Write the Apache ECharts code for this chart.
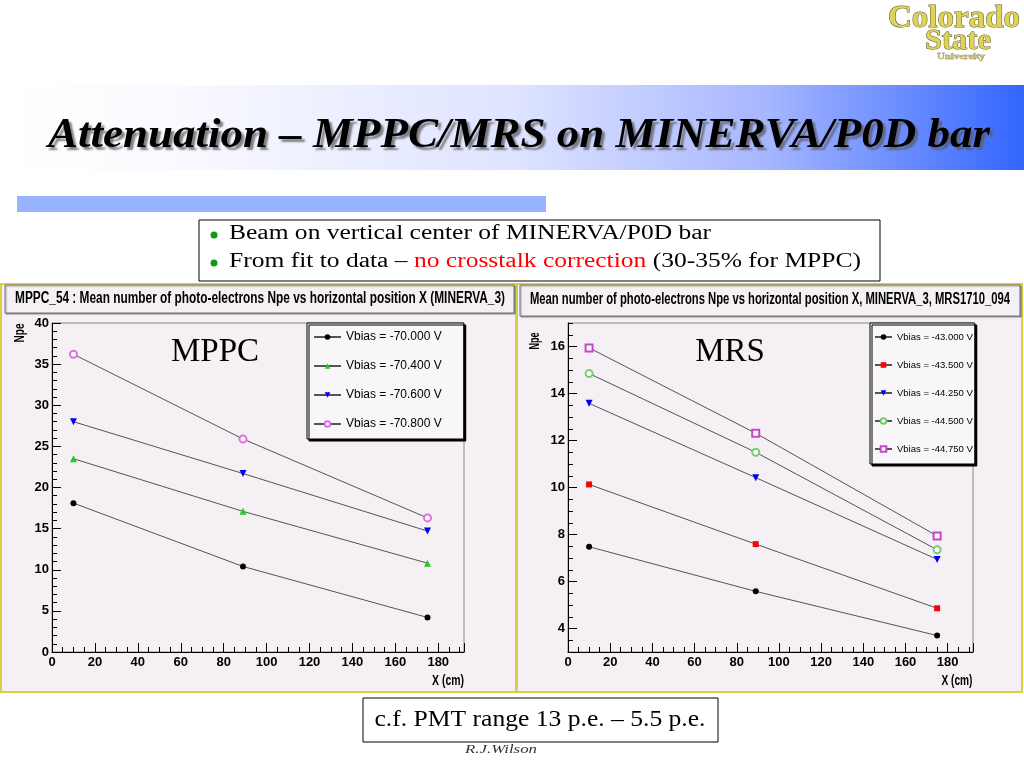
<!DOCTYPE html>
<html><head><meta charset="utf-8">
<script src="https://cdn.jsdelivr.net/npm/echarts@6/dist/echarts.min.js"></script>
<style>html,body{margin:0;padding:0;background:#fff}#c{width:1024px;height:768px}</style>
</head><body><div id="c"></div>
<script>
// ---------------- data ----------------
const xPositions = [10, 89, 175];               // X (cm)
const mppcNames = ['Vbias = -70.000 V', 'Vbias = -70.400 V', 'Vbias = -70.600 V', 'Vbias = -70.800 V'];
const mppc70000 = [18.1, 10.4, 4.2];
const mppc70400 = [23.5, 17.1, 10.8];
const mppc70600 = [28.0, 21.7, 14.7];
const mppc70800 = [36.2, 25.9, 16.3];
const mrsNames = ['Vbias = -43.000 V', 'Vbias = -43.500 V', 'Vbias = -44.250 V', 'Vbias = -44.500 V', 'Vbias = -44.750 V'];
const mrs43000 = [7.48, 5.58, 3.70];
const mrs43500 = [10.13, 7.59, 4.86];
const mrs44250 = [13.58, 10.42, 6.94];
const mrs44500 = [14.85, 11.50, 7.35];
const mrs44750 = [15.94, 12.31, 7.94];
const mrsYTickLabels = [4, 6, 8, 10, 12, 14, 16];

// ---------------- styles ----------------
const rootFont = "'Liberation Sans',Arial,sans-serif";
const serif = "'Liberation Serif','Times New Roman',serif";
const panelBg = '#f4f0f4';
const lineGray = '#555';

const mctx = document.createElement('canvas').getContext('2d');
function fit(text, font, width) { mctx.font = font; return width / mctx.measureText(text).width; }
function fitText(x, y, text, font, width, extra) {
  const s = fit(text, font, width);
  const el = { type: 'text', z: 10, x: x, y: y, scaleX: s, scaleY: 1,
    style: Object.assign({ text: text, font: font, fill: '#000', align: 'center', verticalAlign: 'middle' }, extra && extra.style) };
  if (extra && extra.rotation) el.rotation = extra.rotation;
  return el;
}

function pts(vals) { return xPositions.map((x, i) => [x, vals[i]]); }
function ser(name, vals, xi, yi, symbol, size, color, rot) {
  return {
    name: name, type: 'line', xAxisIndex: xi, yAxisIndex: yi, data: pts(vals),
    symbol: symbol, symbolSize: size, symbolRotate: rot || 0, showAllSymbol: true,
    lineStyle: { color: lineGray, width: 1 }, itemStyle: { color: color, borderWidth: 1.2 },
    emphasis: { disabled: true }, animation: false, z: 3
  };
}
function majorX(g) {
  return { gridIndex: g, type: 'value', position: 'bottom', min: 0, max: 192, interval: 20,
    axisLine: { onZero: false, lineStyle: { color: '#000', width: 1 } },
    axisTick: { inside: true, length: 9, lineStyle: { color: '#000' } },
    axisLabel: { margin: 4, fontFamily: rootFont, fontWeight: 'bold', fontSize: 13, color: '#000',
      formatter: v => (v % 20 === 0 ? String(v) : '') },
    splitLine: { show: false } };
}
function minorAxis(g, pos, min, max, interval) {
  return { gridIndex: g, type: 'value', position: pos, min: min, max: max, interval: interval,
    axisLine: { show: false, onZero: false }, axisTick: { inside: true, length: 5, lineStyle: { color: '#000' } },
    axisLabel: { show: false }, splitLine: { show: false } };
}
function legendCfg(names, left, top, itemW, itemH, lineH, gap, fs, padding) {
  return { data: names, orient: 'vertical', left: left, top: top, itemWidth: itemW, itemHeight: itemH,
    itemGap: gap, padding: padding, selectedMode: false, backgroundColor: '#f8f6f8',
    borderColor: '#000', borderWidth: 1, shadowColor: '#000', shadowBlur: 0.1, shadowOffsetX: 2, shadowOffsetY: 2,
    textStyle: { fontFamily: rootFont, fontSize: fs, lineHeight: lineH, color: '#000' } };
}

const titleFont = "italic bold 42px " + serif;
const titleText = 'Attenuation \u2013 MPPC/MRS on MINERVA/P0D bar';
const bulletFont = "20px " + serif;
const bullet1 = 'Beam on vertical center of MINERVA/P0D bar';
const bullet2a = 'From fit to data \u2013 ', bullet2b = 'no crosstalk correction', bullet2c = ' (30-35% for MPPC)';
const s1 = fit(bullet1, bulletFont, 482);
const s2 = fit(bullet2a + bullet2b + bullet2c, bulletFont, 632);
const lTitle = 'MPPC_54 : Mean number of photo-electrons Npe vs horizontal position X (MINERVA_3)';
const rTitle = 'Mean number of photo-electrons Npe vs horizontal position X, MINERVA_3, MRS1710_094';
const boxFont = "bold 16px " + rootFont;
const axFont = "bold 14px " + rootFont;

const chart = echarts.init(document.getElementById('c'));
chart.setOption({
  animation: false,
  backgroundColor: '#ffffff',
  grid: [
    { left: 52, top: 323, width: 412, height: 329, show: true, borderColor: '#888', borderWidth: 1, backgroundColor: 'transparent' },
    { left: 568, top: 323, width: 405, height: 329, show: true, borderColor: '#888', borderWidth: 1, backgroundColor: 'transparent' }
  ],
  xAxis: [ majorX(0), minorAxis(0, 'bottom', 0, 192, 5), majorX(1), minorAxis(1, 'bottom', 0, 192, 5) ],
  yAxis: [
    { gridIndex: 0, type: 'value', position: 'left', min: 0, max: 40, interval: 5,
      axisLine: { onZero: false, lineStyle: { color: '#000' } },
      axisTick: { inside: true, length: 9, lineStyle: { color: '#000' } },
      axisLabel: { margin: 3, fontFamily: rootFont, fontWeight: 'bold', fontSize: 13, color: '#000' },
      splitLine: { show: false } },
    minorAxis(0, 'left', 0, 40, 1),
    { gridIndex: 1, type: 'value', position: 'left', min: 3, max: 17, interval: 1,
      axisLine: { onZero: false, lineStyle: { color: '#000' } },
      axisTick: { inside: true, length: 9, lineStyle: { color: '#000' }, customValues: mrsYTickLabels },
      axisLabel: { margin: 3, fontFamily: rootFont, fontWeight: 'bold', fontSize: 13, color: '#000',
        customValues: mrsYTickLabels, formatter: v => (v % 2 === 0 ? String(v) : '') },
      splitLine: { show: false } },
    minorAxis(1, 'left', 3, 17, 0.5)
  ],
  legend: [
    legendCfg(mppcNames, 307, 323, 27, 7, 14, 15, 12, [7, 22, 8, 6]),
    legendCfg(mrsNames, 870, 323, 17, 7, 12, 16, 9.5, [8, 2, 9, 4])
  ],
  series: [
    ser(mppcNames[0], mppc70000, 0, 0, 'circle', 6, '#000'),
    ser(mppcNames[1], mppc70400, 0, 0, 'triangle', 7, '#22cc22'),
    ser(mppcNames[2], mppc70600, 0, 0, 'triangle', 7, '#0000ee', 180),
    ser(mppcNames[3], mppc70800, 0, 0, 'emptyCircle', 7, '#e070e0'),
    ser(mrsNames[0], mrs43000, 2, 2, 'circle', 6, '#000'),
    ser(mrsNames[1], mrs43500, 2, 2, 'rect', 6, '#ff0000'),
    ser(mrsNames[2], mrs44250, 2, 2, 'triangle', 7, '#0000ee', 180),
    ser(mrsNames[3], mrs44500, 2, 2, 'emptyCircle', 7, '#77cc77'),
    ser(mrsNames[4], mrs44750, 2, 2, 'emptyRect', 7, '#cc44cc')
  ],
  graphic: [
    // slide title banner
    { type: 'rect', z: -5, shape: { x: 0, y: 85, width: 1024, height: 85 },
      style: { fill: { type: 'linear', x: 0, y: 0, x2: 1, y2: 0, colorStops: [
        { offset: 0, color: '#ffffff' }, { offset: 0.15, color: '#fbfbff' }, { offset: 0.5, color: '#dfe4ff' },
        { offset: 0.75, color: '#a6b6ff' }, { offset: 1, color: '#3366ff' } ] } } },
    fitText(519, 136, titleText, titleFont, 942, { style: {
        textShadowColor: 'rgba(90,90,90,0.75)', textShadowBlur: 2, textShadowOffsetX: 3, textShadowOffsetY: 3 } }),
    { type: 'rect', z: -5, shape: { x: 17, y: 196, width: 529, height: 16 }, style: { fill: '#99b4ff' } },
    // logo
    fitText(954, 19, 'Colorado', "bold 32px " + serif, 132, { style: { fill: '#ddd35a', stroke: '#5e5620', lineWidth: 1 } }),
    fitText(958, 41, 'State', "bold 30px " + serif, 66, { style: { fill: '#ddd35a', stroke: '#5e5620', lineWidth: 1 } }),
    fitText(961, 57, 'University', "bold 9px " + serif, 48, { style: { fill: '#c8c070', stroke: '#5e5620', lineWidth: 0.3 } }),
    // panels
    { type: 'rect', z: -4, shape: { x: 1, y: 284, width: 515, height: 408 }, style: { fill: panelBg, stroke: '#d6cf47', lineWidth: 2 } },
    { type: 'rect', z: -4, shape: { x: 517, y: 284, width: 505, height: 408 }, style: { fill: panelBg, stroke: '#d6cf47', lineWidth: 2 } },
    { type: 'rect', z: -3, shape: { x: 5, y: 285, width: 509, height: 28 },
      style: { fill: panelBg, stroke: '#777', lineWidth: 1, shadowColor: 'rgba(0,0,0,0.35)', shadowBlur: 1, shadowOffsetX: 1, shadowOffsetY: 1 } },
    fitText(260, 299, lTitle, boxFont, 490),
    { type: 'rect', z: -3, shape: { x: 520, y: 285, width: 500, height: 31 },
      style: { fill: panelBg, stroke: '#777', lineWidth: 1, shadowColor: 'rgba(0,0,0,0.35)', shadowBlur: 1, shadowOffsetX: 1, shadowOffsetY: 1 } },
    fitText(770, 300, rTitle, boxFont, 480),
    // axis titles
    fitText(20, 333, 'Npe', "bold 14px " + rootFont, 19, { rotation: Math.PI / 2 }),
    fitText(448, 681, 'X (cm)', axFont, 32),
    fitText(535, 341, 'Npe', "bold 14px " + rootFont, 17, { rotation: Math.PI / 2 }),
    fitText(957, 681, 'X (cm)', axFont, 31),
    // detector labels
    { type: 'text', z: 10, x: 215, y: 352, style: { text: 'MPPC', font: "33px " + serif, fill: '#000', align: 'center', verticalAlign: 'middle' } },
    { type: 'text', z: 10, x: 730, y: 352, style: { text: 'MRS', font: "33px " + serif, fill: '#000', align: 'center', verticalAlign: 'middle' } },
    // bullet box
    { type: 'rect', z: 8, shape: { x: 199, y: 220, width: 681, height: 61 }, style: { fill: '#fff', stroke: '#000', lineWidth: 1 } },
    { type: 'circle', z: 9, shape: { cx: 214, cy: 235, r: 3.5 }, style: { fill: '#119911' } },
    { type: 'circle', z: 9, shape: { cx: 214, cy: 263, r: 3.5 }, style: { fill: '#119911' } },
    { type: 'text', z: 10, x: 229, y: 234, scaleX: s1, style: { text: bullet1, font: bulletFont, fill: '#000', verticalAlign: 'middle' } },
    { type: 'text', z: 10, x: 229, y: 262, scaleX: s2, style: { rich: { r: { fill: '#ff0000', font: bulletFont }, k: { fill: '#000', font: bulletFont } },
      text: '{k|' + bullet2a + '}{r|' + bullet2b + '}{k|' + bullet2c + '}', verticalAlign: 'middle' } },
    // bottom box
    { type: 'rect', z: 8, shape: { x: 363, y: 698, width: 355, height: 44 }, style: { fill: '#fff', stroke: '#000', lineWidth: 1 } },
    fitText(540, 720, 'c.f. PMT range 13 p.e. \u2013 5.5 p.e.', "23px " + serif, 331),
    fitText(501, 750, 'R.J.Wilson', "italic 13px " + serif, 72, { style: { fill: '#333' } })
  ]
});
</script></body></html>
